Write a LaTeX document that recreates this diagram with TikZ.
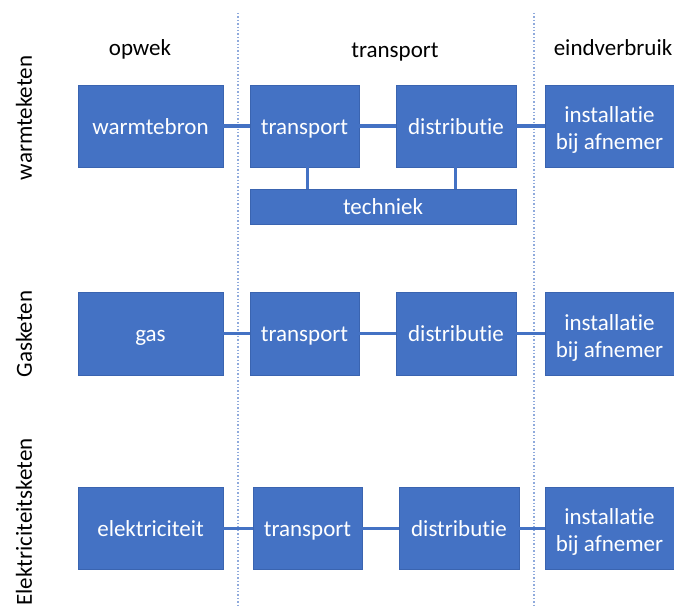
\documentclass[tikz,border=0pt]{standalone}
\usepackage{fontspec}
\setmainfont{Carlito}[Ligatures=NoCommon]
\usepackage{xcolor}
\usepackage{tikz}
\definecolor{blokblauw}{HTML}{4472C4}
\definecolor{randblauw}{HTML}{3A64B0}
\definecolor{stippel}{HTML}{8FAADC}

\begin{document}
\begin{tikzpicture}[x=1pt, y=-1pt,
    blok/.style={rectangle, fill=blokblauw, draw=randblauw, line width=0.6pt, text=white, align=center, inner sep=0pt, font=\fontsize{23}{27}\selectfont},
    enkel/.style={text height=16pt, text depth=0pt},
    lijn/.style={line width=3pt, color=blokblauw},
    kop/.style={font=\fontsize{23}{27}\selectfont, black}]

    \useasboundingbox (0,0) rectangle (674,607);

    %coordinates
    \coordinate (D1t) at (238,13); % scheiding opwek/transport
    \coordinate (D1b) at (238,607);
    \coordinate (D2t) at (534,13); % scheiding transport/eindverbruik
    \coordinate (D2b) at (534,607);

    %dividers
    \draw[stippel, line width=1.4pt, dotted] (D1t) -- (D1b);
    \draw[stippel, line width=1.4pt, dotted] (D2t) -- (D2b);

    %headers
    \node[kop] (hopwek) at (140,49) {opwek};
    \node[kop] (htrans) at (395,52) {transport};
    \node[kop] (heind) at (613,48) {eindverbruik};

    %ketens
    \node[kop, rotate=90] (kwarm) at (24,118) {warmteketen};
    \node[kop, rotate=90] (kgas) at (24,334) {Gasketen};
    \node[kop, rotate=90] (kelek) at (24,522) {Elektriciteitsketen};

    %warmteketen
    \node[blok, enkel, minimum width=145, minimum height=82] (wbron) at (150.5,126) {warmtebron};
    \node[blok, enkel, minimum width=109, minimum height=82] (wtrans) at (304.5,126) {transport};
    \node[blok, enkel, minimum width=120, minimum height=82] (wdist) at (456,126) {distributie};
    \node[blok, minimum width=129, minimum height=82] (winst) at (609.5,126) {\rule{0pt}{24pt}installatie\\bij afnemer};
    \node[blok, enkel, minimum width=266, minimum height=35] (wtech) at (383,206.5) {techniek};

    %gasketen
    \node[blok, enkel, minimum width=145, minimum height=83] (gbron) at (150.5,333.5) {gas};
    \node[blok, enkel, minimum width=109, minimum height=83] (gtrans) at (304.5,333.5) {transport};
    \node[blok, enkel, minimum width=120, minimum height=83] (gdist) at (456,333.5) {distributie};
    \node[blok, minimum width=129, minimum height=83] (ginst) at (609.5,333.5) {\rule{0pt}{24pt}installatie\\bij afnemer};

    %elektriciteitsketen
    \node[blok, enkel, minimum width=145, minimum height=82] (ebron) at (150.5,528) {elektriciteit};
    \node[blok, enkel, minimum width=109, minimum height=82] (etrans) at (307.5,528) {transport};
    \node[blok, enkel, minimum width=120, minimum height=82] (edist) at (459,528) {distributie};
    \node[blok, minimum width=129, minimum height=82] (einst) at (609.5,528) {\rule{0pt}{24pt}installatie\\bij afnemer};

    %links
    \foreach \k in {w,g,e}{
    	\draw[lijn] (\k bron.east) -- (\k trans.west);
    	\draw[lijn] (\k trans.east) -- (\k dist.west);
    	\draw[lijn] (\k dist.east) -- (\k inst.west);
    }
    \draw[lijn] ([xshift=2.5pt]wtrans.south) -- ([xshift=2.5pt]wtrans.south |- wtech.north);
    \draw[lijn] ([xshift=-1pt]wdist.south) -- ([xshift=-1pt]wdist.south |- wtech.north);

\end{tikzpicture}
\end{document}
